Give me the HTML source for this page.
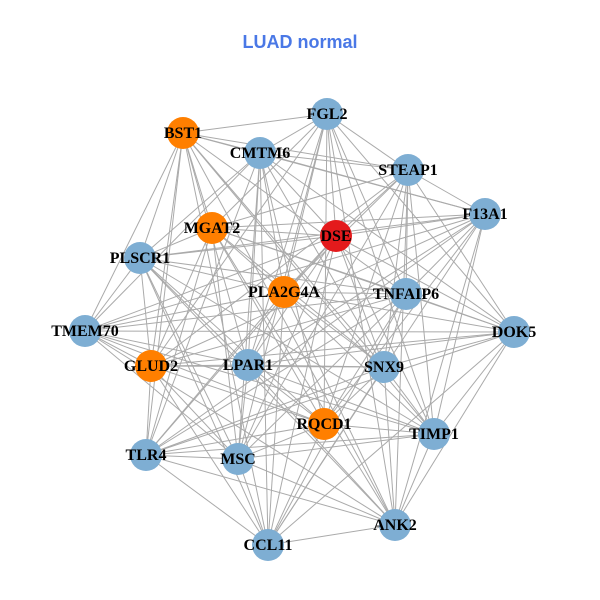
<!DOCTYPE html>
<html><head><meta charset="utf-8"><style>
html,body{margin:0;padding:0;background:#fff;}
svg{display:block}
</style></head><body>
<svg id="g" width="600" height="600" xmlns="http://www.w3.org/2000/svg">
<rect width="600" height="600" fill="#fff"/>
<text x="300" y="48" text-anchor="middle" font-family="Liberation Sans, sans-serif" font-weight="bold" font-size="18" fill="#4a78e6">LUAD normal</text>
<g id="edges" stroke="#aaaaaa" stroke-width="1"></g>
<g id="nodes"></g>
</svg>
<script>
var N=[
["FGL2",327,114,"b"],["BST1",183,133,"o"],["CMTM6",260,153,"b"],["STEAP1",408,170,"b"],
["F13A1",485,214,"b"],["DSE",336,236,"r"],["MGAT2",212,228,"o"],["PLSCR1",140,258,"b"],
["PLA2G4A",284,292,"o"],["TNFAIP6",406,294,"b"],["TMEM70",85,331,"b"],["DOK5",514,332,"b"],
["GLUD2",151,366,"o"],["LPAR1",248,365,"b"],["SNX9",384,367,"b"],["RQCD1",324,424,"o"],
["TIMP1",434,434,"b"],["TLR4",146,455,"b"],["MSC",238,459,"b"],["ANK2",395,525,"b"],["CCL11",268,545,"b"]];
var col={b:"#7eaed3",o:"#ff7f00",r:"#e41a1c"};
var ns="http://www.w3.org/2000/svg",E=document.getElementById("edges"),G=document.getElementById("nodes");
for(var i=0;i<N.length;i++)for(var j=i+1;j<N.length;j++){
  if(((i*7+j*13)%10)<3)continue;
  var l=document.createElementNS(ns,"line");
  l.setAttribute("x1",N[i][1]);l.setAttribute("y1",N[i][2]);l.setAttribute("x2",N[j][1]);l.setAttribute("y2",N[j][2]);
  E.appendChild(l);}
N.forEach(function(n){
  var c=document.createElementNS(ns,"circle");
  c.setAttribute("cx",n[1]);c.setAttribute("cy",n[2]);c.setAttribute("r",16);c.setAttribute("fill",col[n[3]]);
  G.appendChild(c);});
N.forEach(function(n){
  var t=document.createElementNS(ns,"text");
  t.setAttribute("x",n[1]);t.setAttribute("y",n[2]+5);t.setAttribute("text-anchor","middle");
  t.setAttribute("font-family","Liberation Serif, serif");t.setAttribute("font-weight","bold");t.setAttribute("font-size","16");
  t.textContent=n[0];G.appendChild(t);});
</script>
</body></html>
